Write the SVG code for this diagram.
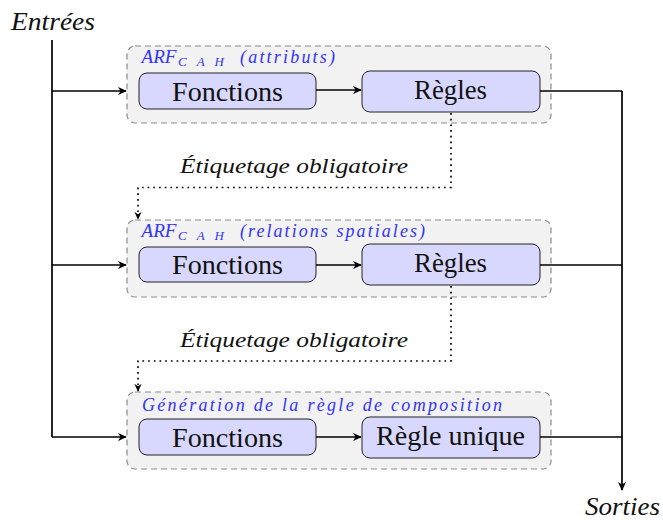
<svg xmlns="http://www.w3.org/2000/svg" width="663" height="520" viewBox="0 0 663 520">
<defs>
<marker id="ah" viewBox="0 0 10 10" refX="9" refY="5" markerWidth="9" markerHeight="9" markerUnits="userSpaceOnUse" orient="auto">
<path d="M0,0.5 L10,5 L0,9.5 L3,5 Z" fill="#000"/>
</marker>
<marker id="ahs" viewBox="0 0 10 10" refX="9" refY="5" markerWidth="8" markerHeight="8" markerUnits="userSpaceOnUse" orient="auto">
<path d="M0,0.5 L10,5 L0,9.5 L3,5 Z" fill="#000"/>
</marker>
</defs>
<style>
text{font-family:"Liberation Serif","DejaVu Serif",serif}
.grp{fill:#f2f2f2;stroke:#8c8c8c;stroke-width:1.2;stroke-dasharray:6,4}
.box{fill:#d8d8ff;stroke:#222;stroke-width:1}
.lbl{font-size:27px;fill:#111;text-anchor:middle}
.ttl{font-style:italic;font-size:18px;fill:#3333ff}
.sub{font-size:13px}
.it{font-style:italic;font-size:25px;fill:#111}
.et{font-style:italic;font-size:22px;fill:#111;text-anchor:middle}
.ln{fill:none;stroke:#000;stroke-width:1.7}
.dot{fill:none;stroke:#000;stroke-width:1.7;stroke-dasharray:1.7,4}
</style>
<rect width="663" height="520" fill="#fff"/>
<text class="it" x="11" y="30" textLength="84" lengthAdjust="spacingAndGlyphs">Entrées</text>
<text class="it" x="585" y="515" textLength="75" lengthAdjust="spacingAndGlyphs">Sorties</text>

<g id="group1">
<rect class="grp" x="127" y="46" width="424" height="77" rx="8"/>
<text class="ttl" y="63"><tspan x="141.5" textLength="35" lengthAdjust="spacingAndGlyphs">ARF</tspan><tspan class="sub" x="178" dy="3" textLength="46" lengthAdjust="spacing">CAH</tspan><tspan x="240" dy="-3" textLength="95" lengthAdjust="spacing">(attributs)</tspan></text>
</g>
<g id="fonctions1"><rect class="box" x="139" y="73" width="177" height="36" rx="8"/><text class="lbl" x="227.5" y="100.5" textLength="111" lengthAdjust="spacingAndGlyphs">Fonctions</text></g>
<g id="regles1"><rect class="box" x="362" y="71" width="178" height="41" rx="8"/><text class="lbl" x="450.5" y="98.5" textLength="73" lengthAdjust="spacingAndGlyphs">Règles</text></g>

<g id="group2">
<rect class="grp" x="127" y="220" width="424" height="77" rx="8"/>
<text class="ttl" y="237"><tspan x="141.5" textLength="35" lengthAdjust="spacingAndGlyphs">ARF</tspan><tspan class="sub" x="178" dy="3" textLength="46" lengthAdjust="spacing">CAH</tspan><tspan x="240" dy="-3" textLength="185" lengthAdjust="spacing">(relations spatiales)</tspan></text>
</g>
<g id="fonctions2"><rect class="box" x="139" y="247" width="177" height="35" rx="8"/><text class="lbl" x="227.5" y="274" textLength="111" lengthAdjust="spacingAndGlyphs">Fonctions</text></g>
<g id="regles2"><rect class="box" x="362" y="244" width="178" height="41" rx="8"/><text class="lbl" x="450.5" y="272" textLength="73" lengthAdjust="spacingAndGlyphs">Règles</text></g>

<g id="group3">
<rect class="grp" x="127" y="392" width="424" height="77" rx="8"/>
<text class="ttl" x="142" y="410.5" textLength="360" lengthAdjust="spacing">Génération de la règle de composition</text>
</g>
<g id="fonctions3"><rect class="box" x="139" y="419" width="177" height="36" rx="8"/><text class="lbl" x="227.5" y="447" textLength="111" lengthAdjust="spacingAndGlyphs">Fonctions</text></g>
<g id="regle3"><rect class="box" x="362" y="417" width="178" height="41" rx="8"/><text class="lbl" x="450.5" y="444.5" textLength="149" lengthAdjust="spacingAndGlyphs">Règle unique</text></g>

<g id="connectors">
<path class="ln" d="M52,40 V437"/>
<path class="ln" d="M52,91 H126" marker-end="url(#ah)"/>
<path class="ln" d="M52,265 H126" marker-end="url(#ah)"/>
<path class="ln" d="M52,437 H126" marker-end="url(#ah)"/>
<path class="ln" d="M316,90 H361" marker-end="url(#ah)"/>
<path class="ln" d="M316,265 H361" marker-end="url(#ah)"/>
<path class="ln" d="M316,437 H361" marker-end="url(#ah)"/>
<path class="ln" d="M540,91 H622"/>
<path class="ln" d="M540,265 H622"/>
<path class="ln" d="M540,437 H622"/>
<path class="ln" d="M622,91 V490" marker-end="url(#ah)"/>
<path class="dot" d="M451,113 V187.5 H138 V219" marker-end="url(#ahs)"/>
<path class="dot" d="M451,286 V361 H138 V391" marker-end="url(#ahs)"/>
<text class="et" x="294" y="173" textLength="228" lengthAdjust="spacingAndGlyphs">Étiquetage obligatoire</text>
<text class="et" x="294" y="347" textLength="228" lengthAdjust="spacingAndGlyphs">Étiquetage obligatoire</text>
</g>
</svg>
